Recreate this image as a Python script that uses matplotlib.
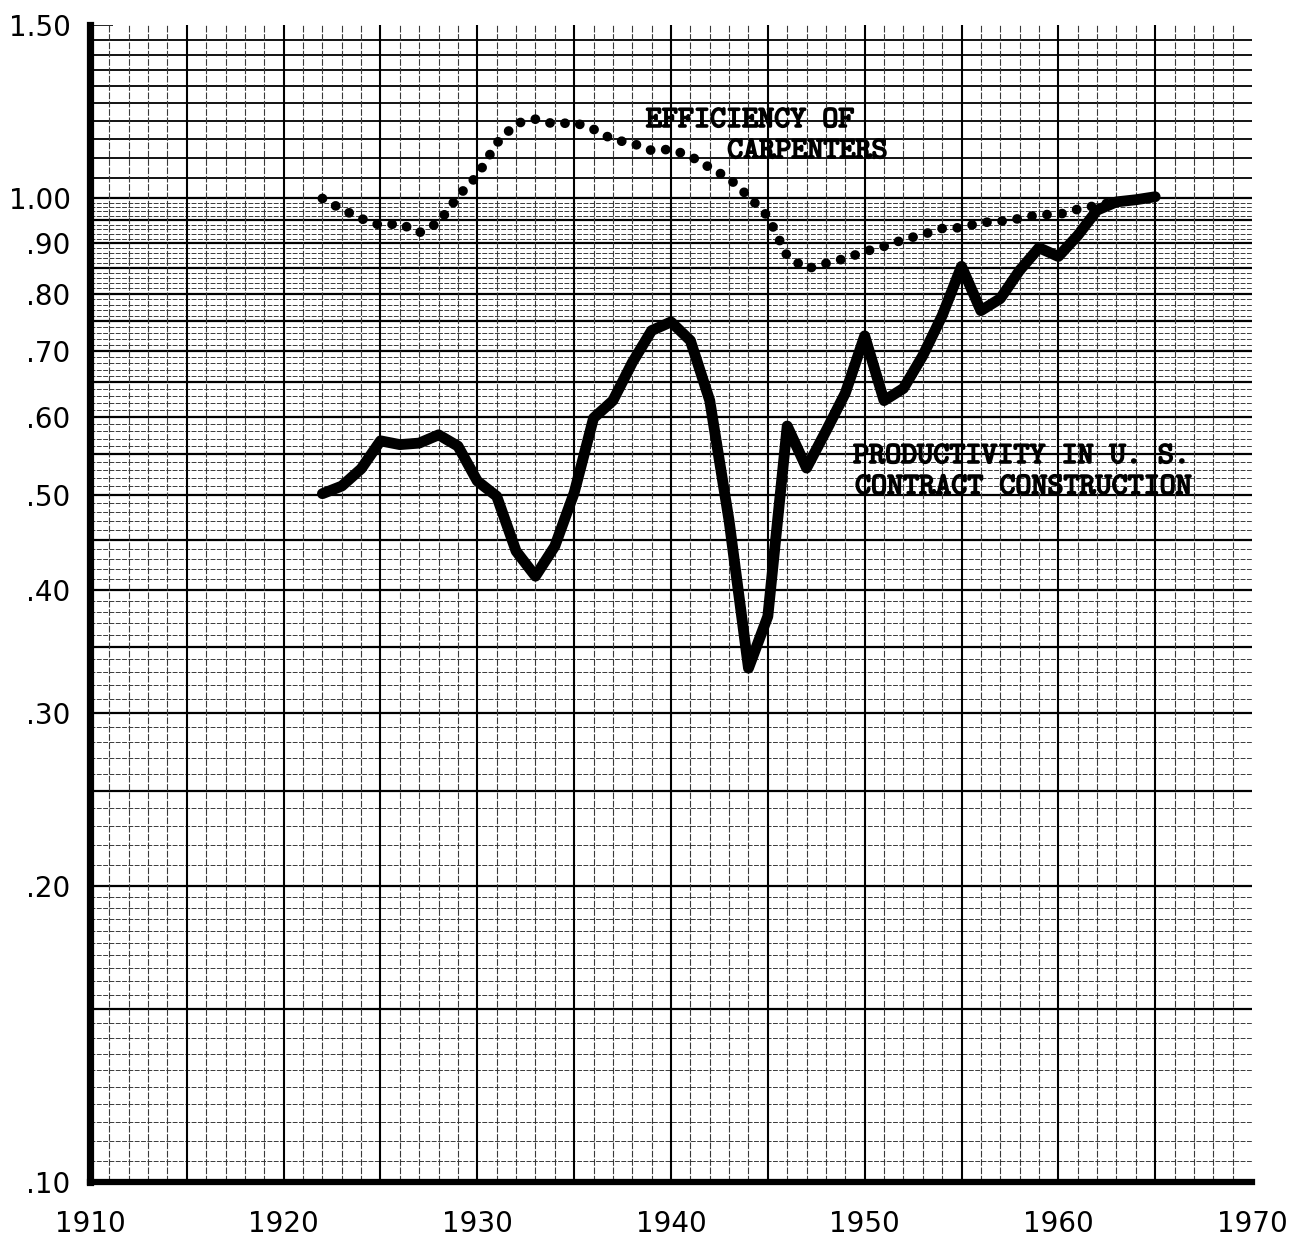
import numpy as np
import matplotlib.pyplot as plt
import matplotlib.patheffects as pe

# productivity in U.S. contract construction, annual index
prod_years = np.arange(1922, 1966)
productivity = [0.501, 0.510, 0.531, 0.567, 0.562, 0.564, 0.575, 0.560, 0.516, 0.498,
                0.438, 0.413, 0.443, 0.502, 0.598, 0.623, 0.681, 0.734, 0.749, 0.717,
                0.623, 0.470, 0.333, 0.376, 0.587, 0.532, 0.580, 0.634, 0.725, 0.623,
                0.641, 0.692, 0.760, 0.853, 0.769, 0.791, 0.845, 0.891, 0.873, 0.917,
                0.973, 0.992, 0.997, 1.004]

# efficiency of carpenters
carp_years = np.arange(1922, 1964)
carpenters = [1.000, 0.975, 0.954, 0.939, 0.943, 0.923, 0.945, 1.005, 1.055, 1.138,
              1.192, 1.204, 1.190, 1.195, 1.176, 1.148, 1.138, 1.119, 1.122, 1.104,
              1.075, 1.048, 1.005, 0.959, 0.874, 0.848, 0.859, 0.869, 0.883, 0.894,
              0.908, 0.919, 0.932, 0.934, 0.945, 0.948, 0.954, 0.963, 0.963, 0.975,
              0.984, 0.993]

x_ticks = [1910, 1920, 1930, 1940, 1950, 1960, 1970]
y_ticks = [0.10, 0.20, 0.30, 0.40, 0.50, 0.60, 0.70, 0.80, 0.90, 1.00, 1.50]
y_labels = ['.10', '.20', '.30', '.40', '.50', '.60', '.70', '.80', '.90', '1.00', '1.50']

fig = plt.figure(figsize=(13.08, 12.39), dpi=100)
ax = fig.add_axes([0.0688, 0.046, 0.8884, 0.9336])
ax.set_yscale('log')
ax.set_xlim(1910, 1970)
ax.set_ylim(0.10, 1.50)

# --- semi-log graph paper ---
def on_step(v, step):
    return abs(v / step - round(v / step)) < 1e-6

fine = np.r_[np.arange(0.105, 0.2, 0.005), np.arange(0.21, 1.0, 0.01)]
fine = [v for v in fine if not on_step(v, 0.05)]
heavy = np.arange(0.15, 1.0001, 0.05)
upper = np.arange(1.05, 1.4501, 0.05)

for v in fine:
    ax.axhline(v, color='#3a3a3a', lw=0.7, ls=(0, (5, 1.5)), zorder=1)
for v in heavy:
    ax.axhline(v, color='black', lw=1.6, zorder=1)
for v in upper:
    ax.axhline(v, color='black', lw=1.3, zorder=1)
ax.hlines(1.5, 1910, 1911.2, color='black', lw=1.2, zorder=1)

for yr in range(1911, 1970):
    if yr % 5 == 0:
        ax.axvline(yr, color='black', lw=1.5, zorder=1)
    else:
        ax.axvline(yr, color='#3a3a3a', lw=0.8, ls=(0, (6, 1.5)), zorder=1)

# --- data ---
ax.plot(prod_years, productivity, color='black', lw=7.8,
        solid_joinstyle='round', solid_capstyle='round', zorder=4)
ax.plot(carp_years, carpenters, color='black', lw=7,
        ls=(0, (0.01, 1.55)), dash_capstyle='round', zorder=3)

typewriter = dict(family='cmtt10', fontsize=22, color='black', va='center', ha='left',
                  path_effects=[pe.withStroke(linewidth=1.2, foreground='black')], zorder=5)
ax.text(1938.7, 1.199, 'EFFICIENCY OF', **typewriter)
ax.text(1942.9, 1.115, 'CARPENTERS', **typewriter)
ax.text(1949.4, 0.546, 'PRODUCTIVITY IN U. S.', **typewriter)
ax.text(1949.5, 0.508, 'CONTRACT CONSTRUCTION', **typewriter)

# --- axes ---
ax.set_xticks(x_ticks)
ax.set_xticklabels([str(t) for t in x_ticks])
ax.set_yticks(y_ticks)
ax.set_yticklabels(y_labels)
ax.yaxis.set_minor_locator(plt.NullLocator())
ax.tick_params(axis='both', length=0, labelsize=20)
ax.tick_params(axis='x', pad=20)
ax.tick_params(axis='y', pad=14)

for side in ['top', 'right']:
    ax.spines[side].set_visible(False)
ax.spines['left'].set_linewidth(5.2)
ax.spines['bottom'].set_linewidth(4.5)
ax.spines['left'].set_zorder(6)
ax.spines['bottom'].set_zorder(6)

fig.savefig('out.png', dpi=100, facecolor='white')
